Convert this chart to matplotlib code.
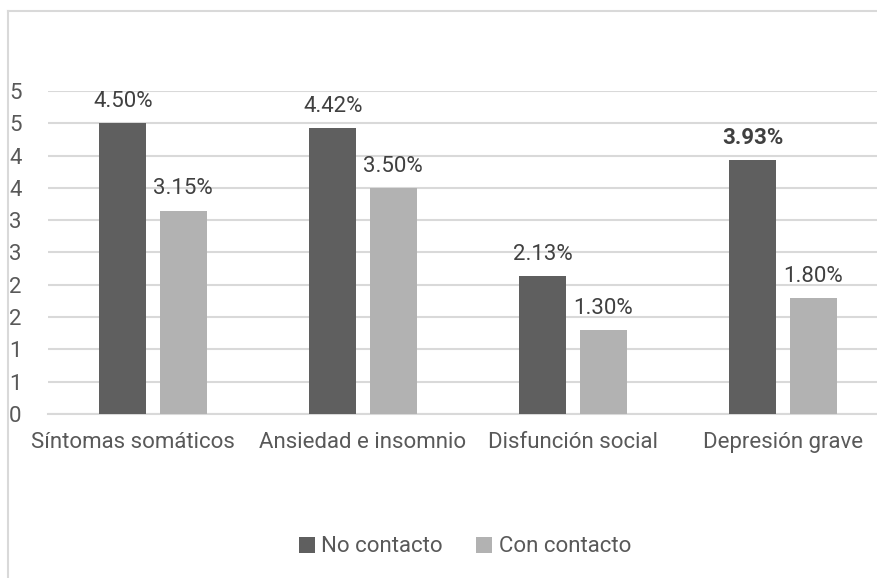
import math
import matplotlib
matplotlib.use("Agg")
import matplotlib.pyplot as plt
import matplotlib.transforms as mtransforms
from matplotlib.ticker import FuncFormatter, MultipleLocator
from matplotlib.lines import Line2D
import numpy as np

categories = ["Síntomas somáticos", "Ansiedad e insomnio", "Disfunción social", "Depresión grave"]
no_contacto = [4.50, 4.42, 2.13, 3.93]
con_contacto = [3.15, 3.50, 1.30, 1.80]
series_names = ["No contacto", "Con contacto"]

plt.rcParams['font.family'] = ['Roboto', 'DejaVu Sans']

TEXT = "#595959"
DARK = "#5f5f5f"
LIGHT = "#b2b2b2"
GRID = "#d9d9d9"
FS = 16

W, H = 878, 578
fig = plt.figure(figsize=(W / 100, H / 100), dpi=100)

# outer chart frame (top and left edges visible)
fig.add_artist(Line2D([8 / W, 1.0], [1 - 11 / H, 1 - 11 / H], color=GRID, lw=1.5, transform=fig.transFigure))
fig.add_artist(Line2D([8 / W, 8 / W], [0.0, 1 - 11 / H], color=GRID, lw=1.5, transform=fig.transFigure))

left, right, top, bottom = 48, 888, 91, 414
ax = fig.add_axes([left / W, 1 - bottom / H, (right - left) / W, (bottom - top) / H])

x = np.arange(len(categories))
bw = 0.224
off = 0.143
b1 = ax.bar(x - off, no_contacto, bw, color=DARK, zorder=3, label=series_names[0])
b2 = ax.bar(x + off, con_contacto, bw, color=LIGHT, zorder=3, label=series_names[1])

for i, (r, v) in enumerate(zip(b1, no_contacto)):
    ax.annotate(f"{v:.2f}%", (r.get_x() + r.get_width() / 2, v), xytext=(0, 8),
                textcoords="offset points", ha="center", va="bottom", fontsize=FS,
                color="#404040", fontweight="bold" if i == 3 else "normal")
for r, v in zip(b2, con_contacto):
    ax.annotate(f"{v:.2f}%", (r.get_x() + r.get_width() / 2, v), xytext=(0, 8),
                textcoords="offset points", ha="center", va="bottom", fontsize=FS,
                color="#404040")

ax.set_xlim(-0.5, len(categories) - 0.5)
ax.set_ylim(0, 5)
ax.yaxis.set_major_locator(MultipleLocator(0.5))
ax.yaxis.set_major_formatter(FuncFormatter(lambda v, p: f"{int(math.floor(v + 0.5))}"))
ax.grid(axis="y", color=GRID, lw=1.5, zorder=0)
ax.set_axisbelow(True)
for s in ["top", "right", "left"]:
    ax.spines[s].set_visible(False)
ax.spines["bottom"].set_color(GRID)
ax.spines["bottom"].set_linewidth(1.5)
ax.set_xticks(x)
ax.set_xticklabels(categories)
ax.tick_params(axis="x", length=0, pad=13, labelsize=FS, labelcolor=TEXT)
ax.tick_params(axis="y", length=0, labelsize=FS, labelcolor=TEXT)
for lab in ax.get_yticklabels():
    lab.set_horizontalalignment("left")
ax.tick_params(axis="y", pad=28)

# nudge the first category label left so it clears its neighbour
first = ax.get_xticklabels()[0]
first.set_transform(first.get_transform() + mtransforms.ScaledTranslation(-0.2, 0, fig.dpi_scale_trans))

fig.legend(handles=[b1, b2], labels=series_names, loc="center", bbox_to_anchor=(465 / W, 1 - 547 / H),
           ncol=2, frameon=False, fontsize=FS, labelcolor=TEXT, handlelength=0.7, handleheight=0.7,
           handletextpad=0.3, columnspacing=1.5)

fig.savefig("out.png", dpi=100)
